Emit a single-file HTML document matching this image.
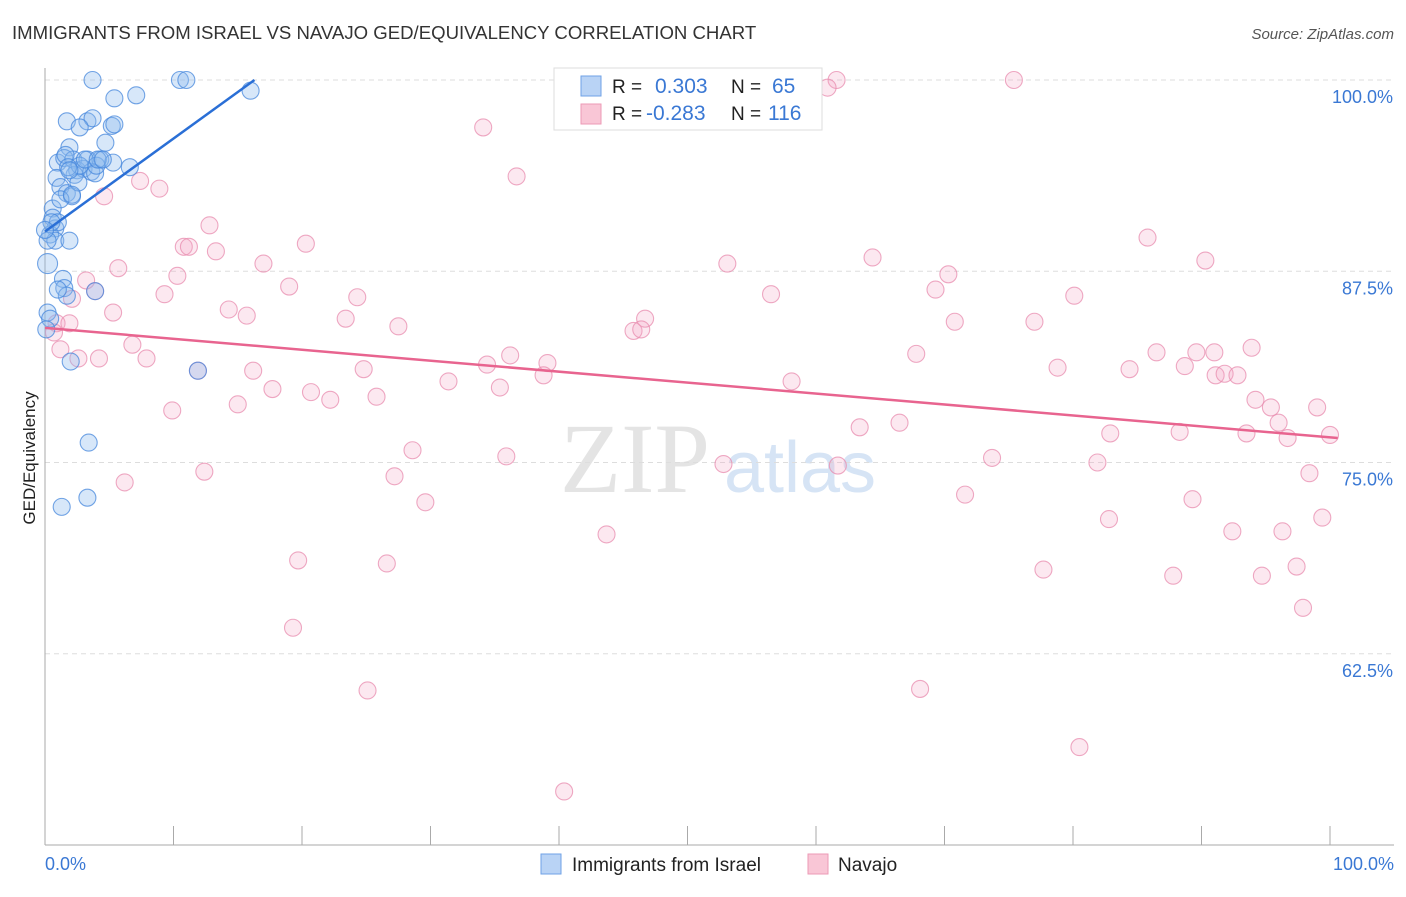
<!DOCTYPE html>
<html><head><meta charset="utf-8"><style>
body{margin:0;background:#fff;font-family:"Liberation Sans",sans-serif;}
svg text{font-family:"Liberation Sans",sans-serif;}
</style></head><body>
<svg id="chart" width="1406" height="892">
<text x="12" y="39" font-size="18.6" fill="#333">IMMIGRANTS FROM ISRAEL VS NAVAJO GED/EQUIVALENCY CORRELATION CHART</text>
<text x="1394" y="39" font-size="15" fill="#555" text-anchor="end" font-style="italic">Source: ZipAtlas.com</text>
<text x="35" y="458" font-size="17" fill="#222" text-anchor="middle" transform="rotate(-90 35 458)">GED/Equivalency</text>
<g><text x="635" y="492" font-size="100" fill="#e4e4e4" text-anchor="middle" font-family="Liberation Serif" style="font-family:'Liberation Serif',serif">ZIP</text><text x="800" y="492" font-size="72" fill="#d6e4f5" text-anchor="middle">atlas</text></g>
<g id="grid"></g><g id="axes"></g><g id="pts"></g><g id="lines"></g>
<g>
<rect x="554" y="68" width="268" height="62" fill="#fff" stroke="#ddd"/>
<rect x="581" y="76" width="20" height="20" fill="#b9d3f5" stroke="#6fa2e6"/>
<rect x="581" y="104" width="20" height="20" fill="#f9c6d6" stroke="#ec9ab6"/>
<text x="612" y="93" font-size="19" fill="#222">R = </text><text x="655" y="93" font-size="21" fill="#3a78d4">0.303</text>
<text x="731" y="93" font-size="19" fill="#222">N = </text><text x="772" y="93" font-size="21" fill="#3a78d4">65</text>
<text x="612" y="120" font-size="19" fill="#222">R = </text><text x="646" y="120" font-size="21" fill="#3a78d4">-0.283</text>
<text x="731" y="120" font-size="19" fill="#222">N = </text><text x="768" y="120" font-size="21" fill="#3a78d4">116</text>
</g>
<g>
<rect x="541" y="854" width="20" height="20" fill="#b9d3f5" stroke="#6fa2e6"/>
<text x="572" y="871" font-size="19" fill="#222">Immigrants from Israel</text>
<rect x="808" y="854" width="20" height="20" fill="#f9c6d6" stroke="#ec9ab6"/>
<text x="838" y="871" font-size="19" fill="#222">Navajo</text>
</g>
</svg>
<script>
const yTicks=[100,87.5,75,62.5];
const yTickLabels=["100.0%","87.5%","75.0%","62.5%"];
const xTicks=[0,10,20,30,40,50,60,70,80,90,100];
const xEndLabels=["0.0%","100.0%"];
const israelX=[3.7,10.5,11.0,5.4,7.1,16.0,1.7,3.3,3.7,2.7,5.2,4.7,6.6,1.9,1.0,1.5,2.2,3.3,4.3,5.3,2.5,3.0,3.6,3.9,2.3,2.7,0.9,1.2,1.7,2.1,0.6,0.6,0.8,0.4,0.8,1.9,0.2,1.4,1.5,3.9,1.7,2.0,11.9,3.4,3.3,1.3,0.2,0.4,0.1,1.2,1.6,3.1,4.0,1.8,2.6,1.0,0.5,0.2,1.0,4.1,4.5,1.9,0,5.4,2.1];
const israelY=[100,100,100,98.8,99.0,99.3,97.3,97.3,97.5,96.9,97.0,95.9,94.3,95.6,94.6,94.9,94.8,94.8,94.8,94.6,94.1,94.2,94.0,93.9,93.8,94.4,93.6,93.0,92.6,92.4,91.6,91.0,90.3,89.9,89.5,89.5,88.0,87.0,86.4,86.2,85.9,81.6,81.0,76.3,72.7,72.1,84.8,84.4,83.7,92.2,95.1,94.8,94.4,94.3,93.3,90.7,90.7,89.5,86.3,94.8,94.8,94.1,90.2,97.1,92.5];
const navajoX=[52.5,61.6,75.4,60.9,34.1,36.7,7.4,8.9,4.6,12.8,85.8,20.3,10.8,11.2,13.3,5.7,17.0,64.4,53.1,90.3,70.3,3.2,10.3,19.0,69.3,56.5,80.1,9.3,24.3,3.9,5.3,14.3,15.7,23.4,27.5,46.7,2.1,77.0,70.8,45.8,46.4,0.9,1.9,0.7,6.8,7.9,1.2,2.6,4.2,67.8,86.5,89.6,91.0,93.9,36.2,39.1,34.4,78.8,84.4,88.7,91.1,91.8,92.8,24.8,16.2,11.9,31.4,38.8,58.1,35.4,17.7,20.7,22.2,25.8,15.0,9.9,94.2,95.4,99.0,63.4,66.5,96.0,82.9,88.3,93.5,96.7,100,28.6,35.9,73.7,61.7,52.8,81.9,12.4,6.2,27.2,98.4,71.6,89.3,29.6,82.8,99.4,43.7,92.4,96.3,19.7,26.6,77.7,87.8,94.7,97.4,97.9,19.3,25.1,68.1,80.5,40.4];
const navajoY=[100,100,100,99.5,96.9,93.7,93.4,92.9,92.4,90.5,89.7,89.3,89.1,89.1,88.8,87.7,88.0,88.4,88.0,88.2,87.3,86.9,87.2,86.5,86.3,86.0,85.9,86.0,85.8,86.2,84.8,85.0,84.6,84.4,83.9,84.4,85.7,84.2,84.2,83.6,83.7,84.1,84.1,83.5,82.7,81.8,82.4,81.8,81.8,82.1,82.2,82.2,82.2,82.5,82.0,81.5,81.4,81.2,81.1,81.3,80.7,80.8,80.7,81.1,81.0,81.0,80.3,80.7,80.3,79.9,79.8,79.6,79.1,79.3,78.8,78.4,79.1,78.6,78.6,77.3,77.6,77.6,76.9,77.0,76.9,76.6,76.8,75.8,75.4,75.3,74.8,74.9,75.0,74.4,73.7,74.1,74.3,72.9,72.6,72.4,71.3,71.4,70.3,70.5,70.5,68.6,68.4,68.0,67.6,67.6,68.2,65.5,64.2,60.1,60.2,56.4,53.5];
const israelTrendX=[0,16.3];
const israelTrendY=[90.1,100];
const navajoTrendX=[0,100.6];
const navajoTrendY=[83.8,76.6];

const NS="http://www.w3.org/2000/svg";
const sx=v=>45+v*12.85;
const sy=v=>80+(100-v)*15.3;
function mk(tag,attrs,parent){const e=document.createElementNS(NS,tag);for(const k in attrs)e.setAttribute(k,attrs[k]);parent.appendChild(e);return e;}
const grid=document.getElementById('grid'),axes=document.getElementById('axes'),pts=document.getElementById('pts'),lines=document.getElementById('lines');
yTicks.forEach((t,i)=>{
 const l=mk('line',{x1:45,x2:1394,y1:sy(t),y2:sy(t),stroke:'#ddd','stroke-dasharray':'5,4'},grid);
 
 
 const tx=mk('text',{x:1393,y:sy(t)+23,'font-size':18,fill:'#3a78d4','text-anchor':'end'},axes);
 tx.textContent=yTickLabels[i];
 
 
});
const ya=mk('line',{x1:45,x2:45,y1:68,y2:845,stroke:'#aaa'},axes);


const xa=mk('line',{x1:45,x2:1394,y1:845,y2:845,stroke:'#aaa'},axes);


xTicks.forEach(t=>{
 const l=mk('line',{x1:sx(t),x2:sx(t),y1:826,y2:845,stroke:'#aaa'},axes);
 
 
});
[[0,'start',45],[100,'end',1394]].forEach((d,i)=>{
 const tx=mk('text',{x:d[2],y:870,'font-size':18,fill:'#3a78d4','text-anchor':d[1]},axes);
 tx.textContent=xEndLabels[i];
 
 
});
navajoX.forEach((x,i)=>{
 const c=mk('circle',{cx:sx(x),cy:sy(navajoY[i]),r:8.5,fill:'rgba(244,165,195,0.25)',stroke:'rgba(232,140,175,0.75)','stroke-width':1.1},pts);
 
 
});
israelX.forEach((x,i)=>{
 const c=mk('circle',{cx:sx(x),cy:sy(israelY[i]),r:(i==36?10:8.5),fill:'rgba(140,185,238,0.35)',stroke:'rgba(70,135,220,0.75)','stroke-width':1.1},pts);
 
 
});
const bl=mk('line',{x1:sx(israelTrendX[0]),y1:sy(israelTrendY[0]),x2:sx(israelTrendX[1]),y2:sy(israelTrendY[1]),stroke:'#2a6fd6','stroke-width':2.5},lines);


const pl=mk('line',{x1:sx(navajoTrendX[0]),y1:sy(navajoTrendY[0]),x2:sx(navajoTrendX[1]),y2:sy(navajoTrendY[1]),stroke:'#e8648f','stroke-width':2.5},lines);


</script>
</body></html>
